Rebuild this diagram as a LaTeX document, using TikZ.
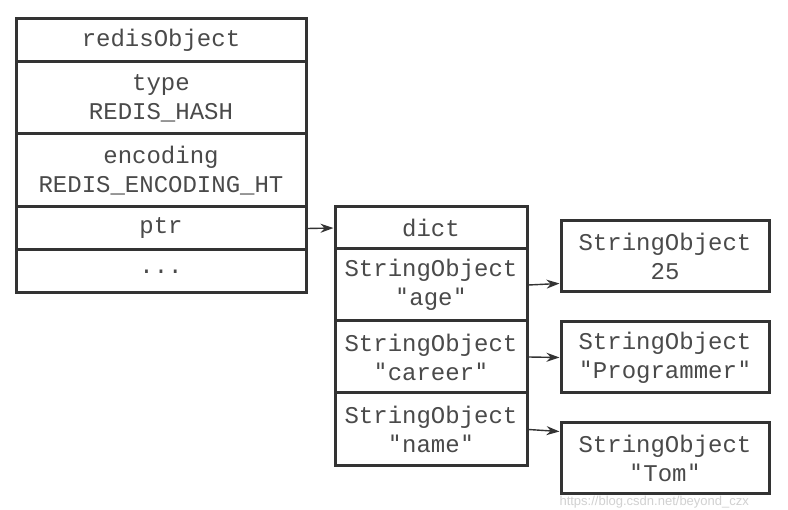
\documentclass[tikz,border=0pt]{standalone}
\usepackage{fontspec}
\setmainfont{Liberation Mono}[Ligatures=NoCommon]
\newfontfamily\quotefont{DejaVu Sans Mono}
\setsansfont{Liberation Sans}
\usetikzlibrary{arrows.meta}
\definecolor{boxline}{HTML}{333333}
\definecolor{boxtext}{HTML}{4A4A4A}
\newcommand{\dq}{{\quotefont\symbol{34}}}
\begin{document}
\begin{tikzpicture}[x=1pt,y=-1pt,
  cell/.style={draw=boxline, line width=3pt, text=boxtext, inner sep=0pt, align=center,
    font=\fontsize{24}{29}\selectfont},
  lcell/.style={cell, minimum width=290pt},
  dcell/.style={cell, minimum width=192pt},
  vcell/.style={cell, minimum width=208pt, minimum height=71pt},
  link/.style={draw=boxline, line width=1.4pt, -{Stealth[length=13pt,width=9pt]}}]
\useasboundingbox[fill=white] (0,0) rectangle (788,510);
% redisObject
\node[lcell, minimum height=43pt] (ro) at (161,40.5) {redisObject};
\node[lcell, minimum height=72pt] (type) at (161,98) {type\\REDIS\_HASH};
\node[lcell, minimum height=73pt] (enc) at (161,170.5) {encoding\\REDIS\_ENCODING\_HT};
\node[lcell, minimum height=43pt] (ptr) at (161,228.5) {ptr};
\node[lcell, minimum height=43pt] (dots) at (161,271.5) {...};
% dict
\node[dcell, minimum height=42pt] (dict) at (431,228) {dict};
\node[dcell, minimum height=72pt] (age) at (431,285) {StringObject\\\dq age\dq};
\node[dcell, minimum height=72pt] (career) at (431,357) {StringObject\\\dq career\dq};
\node[dcell, minimum height=73pt] (name) at (431,429.5) {StringObject\\\dq name\dq};
% values
\node[vcell] (v25) at (665,256.5) {StringObject\\25};
\node[vcell] (vprog) at (665,357.5) {StringObject\\\dq Programmer\dq};
\node[vcell] (vtom) at (665,458.5) {StringObject\\\dq Tom\dq};
% links
\draw[link] (ptr.east) -- (dict.west);
\draw[link] (age.east) -- ([yshift=10pt]v25.south west);
\draw[link] (career.east) -- (vprog.west);
\draw[link] (name.east) -- ([yshift=-10pt]vtom.north west);
% watermark
\node[text=black!18, font=\sffamily\fontsize{13}{13}\selectfont, anchor=west] (wm) at (556,502) {https://blog.csdn.net/beyond\_czx};
\end{tikzpicture}
\end{document}
